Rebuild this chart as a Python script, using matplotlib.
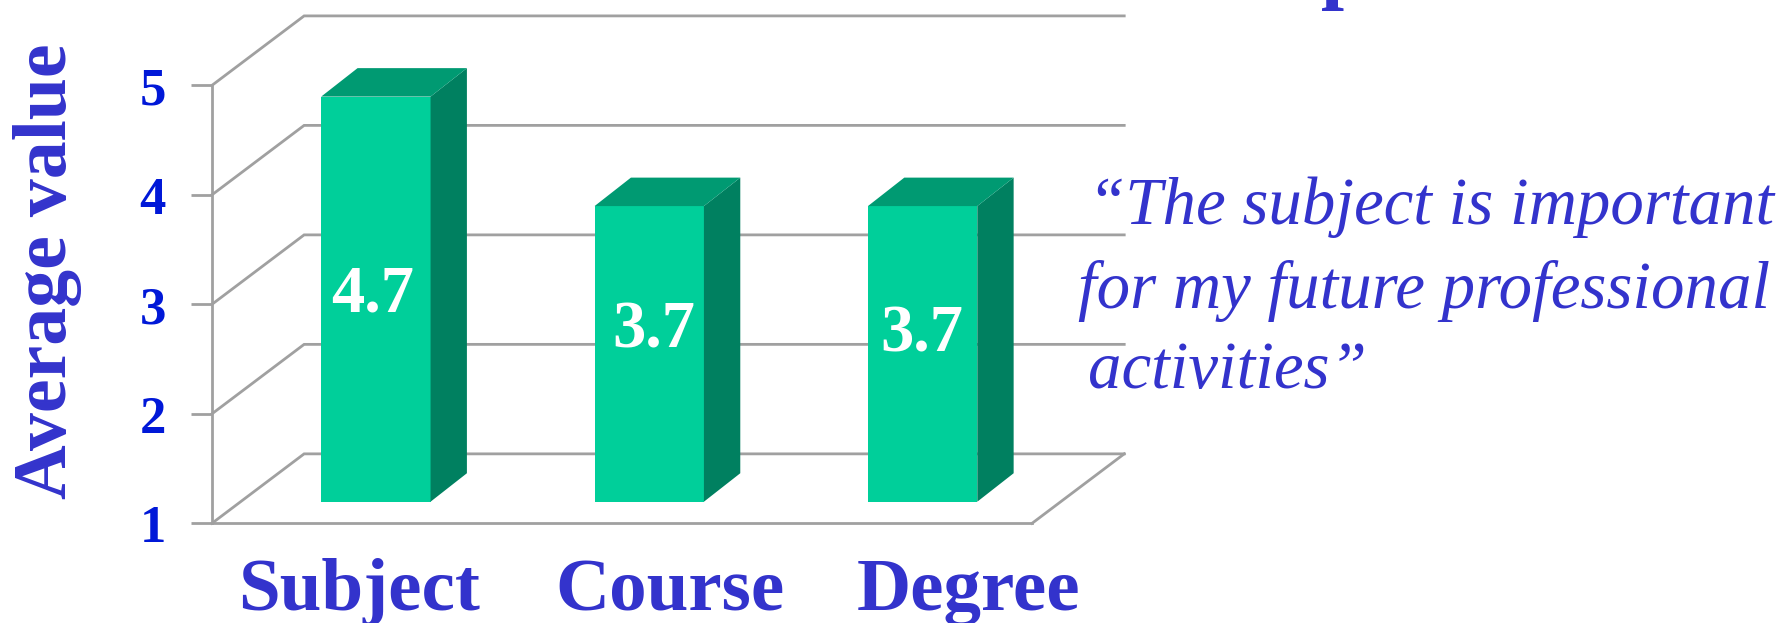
import matplotlib
matplotlib.use("Agg")
import matplotlib.pyplot as plt
from matplotlib.patches import Polygon
from matplotlib.transforms import ScaledTranslation

plt.rcParams['font.family'] = ['Liberation Serif', 'DejaVu Serif']

categories = ["Subject", "Course", "Degree"]
values = [4.7, 3.7, 3.7]
value_labels = ["4.7", "3.7", "3.7"]
y_ticks = [1, 2, 3, 4, 5]
quote_lines = ["\u201cThe subject is important", "for my future professional", "activities\u201d"]

W, H = 1786, 623
SCALE = 1786 / 1568

BLUE = "#3333CC"
TICK_BLUE = "#0018D8"
GRID = "#A0A0A0"
FRONT = "#00CF9A"
TOP = "#009A72"
SIDE = "#008060"

# Oblique projection offsets, in data units
WALL_DX, WALL_DY = 0.3375, 0.635
BAR_OFF_X, BAR_OFF_Y = 0.1, 0.198
BAR_DX, BAR_DY = 0.133, 0.26
BAR_W = 0.4

fig = plt.figure(figsize=(W / 100, H / 100), dpi=100, facecolor="white")
left, right = 186 * SCALE / W, 906 * SCALE / W
top, bottom = 1 - 75 * SCALE / H, 1 - 459.5 * SCALE / H
ax = fig.add_axes([left, bottom, right - left, top - bottom])
ax.set_xlim(-0.5, 2.5)
ax.set_ylim(1, 5)
ax.patch.set_visible(False)

for name in ("top", "right"):
    ax.spines[name].set_visible(False)
for name in ("left", "bottom"):
    ax.spines[name].set_color(GRID)
    ax.spines[name].set_linewidth(2)

# Receding gridlines on the side wall and the back wall
for v in y_ticks:
    ax.plot([-0.5, -0.5 + WALL_DX, 2.5 + WALL_DX],
            [v, v + WALL_DY, v + WALL_DY],
            color=GRID, lw=2, clip_on=False, zorder=1, solid_joinstyle="miter")
ax.plot([2.5, 2.5 + WALL_DX], [1, 1 + WALL_DY], color=GRID, lw=2, clip_on=False, zorder=1)

# Extruded columns
xs = list(range(len(categories)))
for x, v in zip(xs, values):
    x0 = x + BAR_OFF_X - BAR_W / 2
    x1 = x0 + BAR_W
    y0 = 1 + BAR_OFF_Y
    y1 = v + BAR_OFF_Y
    ax.bar(x + BAR_OFF_X, v - 1, width=BAR_W, bottom=y0, color=FRONT,
           zorder=3, clip_on=False)
    ax.add_patch(Polygon([(x1, y0), (x1 + BAR_DX, y0 + BAR_DY),
                          (x1 + BAR_DX, y1 + BAR_DY), (x1, y1)],
                         closed=True, fc=SIDE, ec="none", zorder=3, clip_on=False))
    ax.add_patch(Polygon([(x0, y1), (x0 + BAR_DX, y1 + BAR_DY),
                          (x1 + BAR_DX, y1 + BAR_DY), (x1, y1)],
                         closed=True, fc=TOP, ec="none", zorder=3, clip_on=False))

# Value labels inside the columns
label_px = [(327, 259), (574, 291), (809, 294)]
for (px, py), lab in zip(label_px, value_labels):
    fig.text(px * SCALE / W, 1 - py * SCALE / H, lab, color="white", fontsize=48,
             fontweight="bold", ha="center", va="center", zorder=5)

# Axis ticks and labels, with the numerals nudged just below their ticks
ax.set_yticks(y_ticks)
ax.set_yticklabels([str(t) for t in y_ticks], color=TICK_BLUE, fontsize=38,
                   fontweight="bold", va="center")
ax.tick_params(axis="y", length=15, width=2, color=GRID, pad=18)
ax.set_xticks([])
nudge = ScaledTranslation(0, -5 * SCALE / 100, fig.dpi_scale_trans)
for tick_label in ax.get_yticklabels():
    tick_label.set_transform(tick_label.get_transform() + nudge)

cat_px = [315, 588, 850]
for px, name in zip(cat_px, categories):
    fig.text(px * SCALE / W, 1 - 520 * SCALE / H, name, color=BLUE, fontsize=54,
             fontweight="bold", ha="center", va="center")

fig.text(42 * SCALE / W, 1 - 238 * SCALE / H, "Average value", color=BLUE, fontsize=54.5,
         fontweight="bold", rotation=90, ha="center", va="center")

# Quotation beside the chart
quote_pos = [(955, 197), (946, 270), (955, 341)]
for (px, py), line in zip(quote_pos, quote_lines):
    fig.text(px * SCALE / W, 1 - py * SCALE / H, line, color=BLUE, fontsize=48.2,
             fontstyle="italic", ha="left", va="baseline")

# Descender of the heading cut off by the top edge
fig.text(1180 * SCALE / W, 1 - (-6) * SCALE / H, "p", color=BLUE, fontsize=60,
         fontweight="bold", ha="center", va="baseline")

fig.savefig("out.png", dpi=100)
